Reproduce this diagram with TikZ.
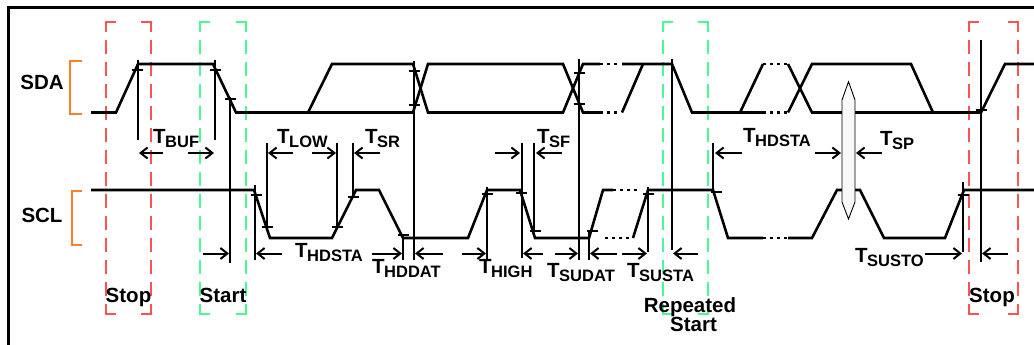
\documentclass[tikz,border=0pt]{standalone}
\usepackage{fontspec}
\setmainfont{Liberation Sans}
\usetikzlibrary{arrows.meta}
\definecolor{rdash}{RGB}{255,82,82}
\definecolor{gdash}{RGB}{72,250,150}
\definecolor{obrk}{RGB}{255,128,40}
\newcommand{\tlab}[4]{\node[anchor=base west, inner sep=0pt] (#1) at (#2,#3) {\fontsize{20.5}{20}\selectfont\bfseries T\kern-0.5pt\raisebox{-4pt}{\fontsize{16.5}{16}\selectfont\bfseries #4}};}
\newcommand{\dbox}[3]{%
  \draw[#3, line width=2pt] (#1,32)--(#1,22)--(#1+10,22);
  \draw[#3, line width=2pt] (#2-10,22)--(#2,22)--(#2,32);
  \draw[#3, line width=2pt] (#1,304)--(#1,314)--(#1+10,314);
  \draw[#3, line width=2pt] (#2-10,314)--(#2,314)--(#2,304);
  \draw[#3, line width=2pt, dash pattern=on 14pt off 8pt, dash phase=-18pt] (#1,22)--(#1,314);
  \draw[#3, line width=2pt, dash pattern=on 14pt off 8pt, dash phase=-18pt] (#2,22)--(#2,314);}
\begin{document}
\begin{tikzpicture}[x=1pt,y=-1pt,
  sig/.style={line width=2.6pt},
  dotsig/.style={line width=2.6pt, dash pattern=on 3pt off 4pt},
  vref/.style={line width=2pt},
  tick/.style={line width=2pt},
  arr/.style={line width=2pt, -{Straight Barb[length=7pt,width=11pt,line width=2pt]}},
  brk/.style={obrk, line width=2.2pt},
  lbl/.style={font=\fontsize{20.5}{20}\selectfont\bfseries, inner sep=0pt, anchor=base}]
\useasboundingbox (0,0) rectangle (1034,345);
\fill[white] (0,0) rectangle (1034,345);
% frame
\draw[line width=2.8pt] (8.5,400) -- (8.5,7.3) -- (1100,7.3);
% dashed boxes
\dbox{106}{151}{rdash}
\dbox{200}{246}{gdash}
\dbox{663}{708}{gdash}
\dbox{969}{1018}{rdash}
% brackets and names
\draw[brk] (81.7,61) -- (70,61) -- (70,114) -- (81.7,114);
\draw[brk] (81.7,191) -- (72,191) -- (72,245) -- (81.7,245);
\node[lbl] (sda) at (42,90) {SDA};
\node[lbl] (scl) at (42,222) {SCL};
\node[lbl] (stop1) at (128.5,302) {Stop};
\node[lbl] (start1) at (223,302) {Start};
\node[lbl] (rep1) at (690,312) {Repeated};
\node[lbl] (rep2) at (693.5,331) {Start};
\node[lbl] (stop2) at (992,302) {Stop};
% SDA
\def\hi{64}\def\lo{112.5}
\draw[sig] (91,\lo) -- (116,\lo) -- (138,\hi) -- (213,\hi) -- (236,\lo) -- (413,\lo) -- (428,\hi) -- (563,\hi) -- (583,\lo) -- (600,\lo);
\draw[sig] (308,\lo) -- (332,\hi) -- (413,\hi) -- (428,\lo) -- (563,\lo) -- (583,\hi) -- (600,\hi);
\draw[dotsig] (600,\lo) -- (620,\lo);
\draw[dotsig] (600,\hi) -- (620,\hi);
\draw[sig] (622,\lo) -- (643,\hi);
\draw[sig] (622,\hi) -- (672,\hi) -- (692,\lo) -- (763,\lo);
\draw[sig] (740,\lo) -- (763,\hi);
\draw[dotsig] (763,\hi) -- (788,\hi);
\draw[dotsig] (763,\lo) -- (788,\lo);
\draw[sig] (788,\hi) -- (812,\lo) -- (981,\lo) -- (1005,\hi) -- (1034,\hi);
\draw[sig] (788,\lo) -- (812,\hi) -- (911,\hi) -- (933,\lo);
% SCL
\def\chi{190}\def\clo{238}
\draw[sig] (91,\chi) -- (254,\chi) -- (270,\clo) -- (332,\clo) -- (356,\chi) -- (379,\chi) -- (403,\clo) -- (468,\clo) -- (487,\chi) -- (520,\chi) -- (535,\clo) -- (589,\clo) -- (603,\chi) -- (613,\chi);
\draw[dotsig] (613,\chi) -- (637,\chi);
\draw[dotsig] (605,\clo) -- (633,\clo);
\draw[sig] (633,\clo) -- (648,\chi) -- (713,\chi) -- (728,\clo) -- (763,\clo);
\draw[dotsig] (763,\clo) -- (788,\clo);
\draw[sig] (788,\clo) -- (812,\clo) -- (837,\chi) -- (860,\chi) -- (884,\clo) -- (945,\clo) -- (964,\chi) -- (1034,\chi);
% spike
\draw[line width=0.9pt, fill=gray!5] (848.5,81.7) -- (855,100) -- (855,202) -- (848.5,219) -- (842,202) -- (842,100) -- cycle;
% vertical reference lines
\foreach \x/\a/\b in {137.7/60/140, 215/60/140, 230/97/263, 255/185/260, 266.7/143/227, 337.3/143/227, 352.7/143/198, 403.3/235/260, 414.3/61/260, 486.7/187/260, 521.7/143/258, 534/143/232, 579/59/260, 589.3/231/260, 647.7/187/252, 671.7/59/250, 713.3/143/192, 962.7/182/252, 981/40/262}
  \draw[vref] (\x,\a) -- (\x,\b);
% ticks
\foreach \x/\y in {137/70, 215/70, 230/99, 256/195, 267/227, 337/227, 353/197, 403/235, 414/71, 414/105, 487/194, 521.7/193, 535/231, 579/73, 579/104, 592.7/231, 648/194, 716.7/191.7, 963/195, 981/110}
  \draw[tick] (\x-5.5,\y) -- (\x+5.5,\y);
% arrows upper row
\foreach \s/\e in {163/139, 188/214, 293/268, 312/336, 380/354, 495/520, 562/536, 742/715, 815/841, 882/856}
  \draw[arr] (\s,153) -- (\e,153);
% arrows lower row
\foreach \s/\e in {203/229, 282/256, 372/402, 443/415, 462/486, 543/523, 555/578, 617/590, 622/647, 698/673, 925/962, 1008/982}
  \draw[arr] (\s,253.5) -- (\e,253.5);
% timing labels
\tlab{tbuf}{153}{143}{BUF}
\tlab{tlow}{277}{143}{LOW}
\tlab{tsr}{365}{143}{SR}
\tlab{tsf}{537}{143}{SF}
\tlab{thdsta2}{743}{142}{HDSTA}
\tlab{tsp}{880}{145}{SP}
\tlab{thdsta1}{295}{257}{HDSTA}
\tlab{thddat}{372}{273}{HDDAT}
\tlab{thigh}{479}{273}{HIGH}
\tlab{tsudat}{547}{277}{SUDAT}
\tlab{tsusta}{627}{277}{SUSTA}
\tlab{tsusto}{855}{262}{SUSTO}
\end{tikzpicture}
\end{document}
